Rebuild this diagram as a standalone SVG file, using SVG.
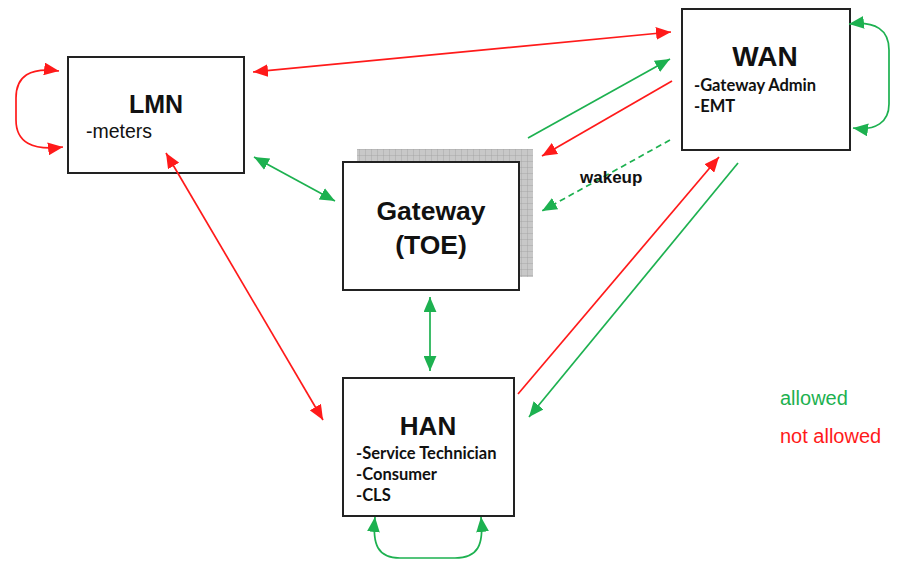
<svg xmlns="http://www.w3.org/2000/svg" width="897" height="562" viewBox="0 0 897 562">
<style>
.box{fill:#fff;stroke:#222;stroke-width:2}
.title{font-family:"Liberation Sans",Arial,sans-serif;font-weight:bold;fill:#111;text-anchor:middle}
.sub{font-family:Lato,"Open Sans",sans-serif;font-weight:bold;font-size:16.5px;fill:#111}
.r{fill:none;stroke:#ff1a1a;stroke-width:1.7}
.g{fill:none;stroke:#1db150;stroke-width:1.7}
.legend{font-family:"Liberation Sans",Arial,sans-serif;font-size:20px}
</style>
<defs>
<pattern id="grid" width="6" height="6" patternUnits="userSpaceOnUse">
<rect width="6" height="6" fill="#c8c8c8"/>
<path d="M6 0V6M0 6H6" stroke="#999" stroke-width="0.7"/>
</pattern>
<marker id="ar" viewBox="0 0 14 12" refX="14" refY="6" markerWidth="15" markerHeight="13" markerUnits="userSpaceOnUse" orient="auto-start-reverse"><path d="M0 0L14 6L0 12z" fill="#ff1a1a"/></marker>
<marker id="ag" viewBox="0 0 14 12" refX="14" refY="6" markerWidth="15" markerHeight="13" markerUnits="userSpaceOnUse" orient="auto-start-reverse"><path d="M0 0L14 6L0 12z" fill="#1db150"/></marker>
</defs>
<g id="LMN">
<rect class="box" x="68" y="57" width="176" height="116"/>
<text class="title" x="156" y="113" font-size="25">LMN</text>
<text x="86" y="138" font-family="Liberation Sans,Arial,sans-serif" font-size="19.5" fill="#111">-meters</text>
</g>
<g id="Gateway">
<rect x="357" y="149" width="176" height="128" fill="url(#grid)"/>
<rect class="box" x="343" y="162" width="176" height="128"/>
<text class="title" x="431" y="220" font-size="26.5">Gateway</text>
<text class="title" x="431" y="254" font-size="26.5">(TOE)</text>
</g>
<g id="WAN">
<rect class="box" x="682" y="9" width="168" height="141"/>
<text class="title" x="765" y="66" font-size="28">WAN</text>
<text class="sub" x="694" y="91">-Gateway Admin</text>
<text class="sub" x="694" y="112">-EMT</text>
</g>
<g id="HAN">
<rect class="box" x="343" y="378" width="171" height="138"/>
<text class="title" x="428" y="435" font-size="26">HAN</text>
<text class="sub" x="356" y="459">-Service Technician</text>
<text class="sub" x="356" y="480">-Consumer</text>
<text class="sub" x="356" y="501">-CLS</text>
</g>
<g id="connectors">
<path class="r" d="M59 71C30 67 16 76 16 98L16 120C16 142 32 151 63 147" marker-start="url(#ar)" marker-end="url(#ar)"/>
<path class="r" d="M253 72L671 32" marker-start="url(#ar)" marker-end="url(#ar)"/>
<path class="g" d="M254 157L335 201" marker-start="url(#ag)" marker-end="url(#ag)"/>
<path class="r" d="M166 153L323 420" marker-start="url(#ar)" marker-end="url(#ar)"/>
<path class="g" d="M430 297L430 371" marker-start="url(#ag)" marker-end="url(#ag)"/>
<path class="g" d="M528 138L670 59" marker-end="url(#ag)"/>
<path class="r" d="M672 81L542 156" marker-end="url(#ar)"/>
<path class="g" d="M670 140L542 211" stroke-dasharray="6 4" marker-end="url(#ag)"/>
<text x="580" y="183" font-family="Liberation Sans,Arial,sans-serif" font-weight="bold" font-size="17" fill="#111">wakeup</text>
<path class="r" d="M518 394L719 157" marker-end="url(#ar)"/>
<path class="g" d="M738 163L529 417" marker-end="url(#ag)"/>
<path class="g" d="M849 24C876 21 889 30 889 50L889 104C889 122 876 131 853 128" marker-start="url(#ag)" marker-end="url(#ag)"/>
<path class="g" d="M375 517C372 545 378 558 400 558L455 558C478 558 484 545 481 517" marker-start="url(#ag)" marker-end="url(#ag)"/>
</g>
<text class="legend" x="780" y="405" fill="#1db150">allowed</text>
<text class="legend" x="780" y="443" fill="#ff1a1a">not allowed</text>
</svg>
